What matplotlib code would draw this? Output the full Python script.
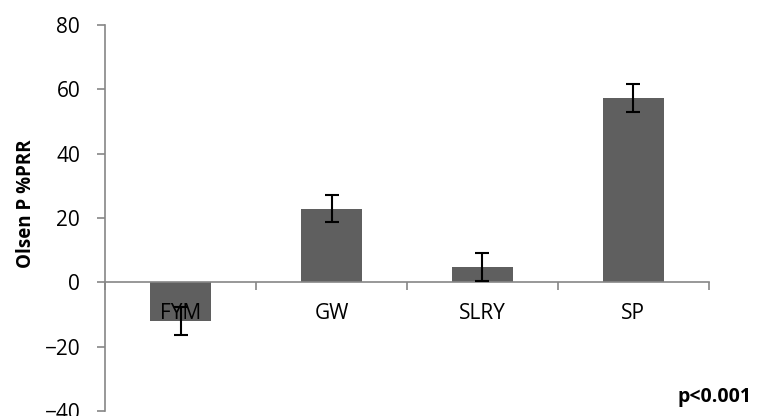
import numpy as np
import matplotlib.pyplot as plt

categories = ['FYM', 'GW', 'SLRY', 'SP']
values = [-12.0, 22.9, 4.7, 57.3]
errors = [4.3, 4.3, 4.3, 4.4]

plt.rcParams['font.family'] = ['Open Sans', 'DejaVu Sans']

fig = plt.figure(figsize=(7.68, 4.16), dpi=100)
ax = fig.add_axes([0.137, 0.012, 0.786, 0.928])
ax.set_axisbelow(False)

x = np.arange(len(categories)) + 0.5
ax.bar(x, values, width=0.4, color='#5f5f5f', zorder=2)
ax.errorbar(x, values, yerr=errors, fmt='none', ecolor='black',
            elinewidth=1.5, capsize=5, capthick=1.5, zorder=3)

ax.set_xlim(0, len(categories))
ax.set_ylim(-40, 80)
ax.set_yticks(np.arange(-40, 81, 20))

for s in ['top', 'right']:
    ax.spines[s].set_visible(False)
ax.spines['bottom'].set_position(('data', 0))
for s in ['left', 'bottom']:
    ax.spines[s].set_color('#868686')
    ax.spines[s].set_linewidth(1.2)

ax.set_xticks(x)
ax.set_xticklabels(categories)
ax.set_xticks(np.arange(0, len(categories) + 1), minor=True)
ax.tick_params(axis='x', which='major', length=0, pad=15, labelsize=15)
ax.tick_params(axis='x', which='minor', length=6, color='#868686', width=1.2)
ax.tick_params(axis='y', length=6, color='#868686', width=1.2, labelsize=15, pad=12)

ax.set_ylabel('Olsen P %PRR', fontsize=13.5, fontweight='bold')
ax.yaxis.set_label_coords(-0.115, 0.536)
fig.text(0.978, 0.045, 'p<0.001', ha='right', va='center',
         fontsize=14, fontweight='bold')

fig.savefig('out.png', dpi=100)
